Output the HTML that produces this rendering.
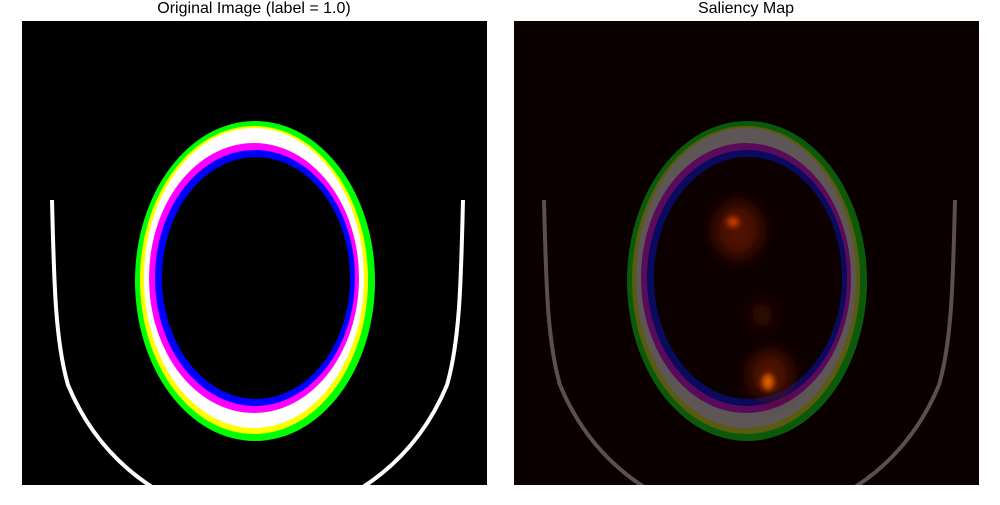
<!DOCTYPE html>
<html><head><meta charset="utf-8"><style>
body{margin:0;background:#fff;width:1000px;height:500px;overflow:hidden;font-family:"Liberation Sans",sans-serif}
</style></head><body>
<svg width="1000" height="500" viewBox="0 0 1000 500">
<defs>
<filter id="blur" x="-50%" y="-50%" width="200%" height="200%"><feGaussianBlur stdDeviation="8"/></filter>
<filter id="blur2" x="-50%" y="-50%" width="200%" height="200%"><feGaussianBlur stdDeviation="3"/></filter>
<clipPath id="c1"><rect x="22" y="21" width="465" height="464"/></clipPath>
<clipPath id="c2"><rect x="514" y="21" width="465" height="464"/></clipPath>
</defs>
<text x="254" y="13" text-anchor="middle" font-size="16" fill="#000">Original Image (label = 1.0)</text>
<text x="746" y="13" text-anchor="middle" font-size="16" fill="#000">Saliency Map</text>
<g clip-path="url(#c1)">
<rect x="22" y="21" width="465" height="464" fill="#000"/>
<ellipse cx="255" cy="281" rx="120" ry="160" fill="#00ff00"/>
<ellipse cx="254" cy="280" rx="114" ry="154" fill="#ffff00"/>
<ellipse cx="254" cy="278" rx="110" ry="150" fill="#ffffff"/>
<ellipse cx="254" cy="278" rx="105" ry="135" fill="#ff00ff"/>
<ellipse cx="255" cy="278" rx="100" ry="128" fill="#0000ff"/>
<ellipse cx="256" cy="278" rx="94" ry="121" fill="#000"/>
<path d="M52,200 C54,280 55,340 68,385 Q95,450 152,487" stroke="#fff" stroke-width="4" fill="none"/>
<path d="M463,200 C461,280 460,340 447,385 Q420,450 363,487" stroke="#fff" stroke-width="4" fill="none"/>
</g>
<g clip-path="url(#c2)">
<rect x="514" y="21" width="465" height="464" fill="#0a0000"/>
<ellipse cx="747" cy="281" rx="120" ry="160" fill="#0a5a0a"/>
<ellipse cx="746" cy="280" rx="114" ry="154" fill="#5a5a12"/>
<ellipse cx="746" cy="278" rx="110" ry="150" fill="#5e5556"/>
<ellipse cx="746" cy="278" rx="105" ry="135" fill="#5a0a5a"/>
<ellipse cx="747" cy="278" rx="100" ry="128" fill="#0a0a5e"/>
<ellipse cx="748" cy="278" rx="94" ry="121" fill="#0d0000"/>
<ellipse cx="738" cy="230" rx="24" ry="28" fill="#601500" filter="url(#blur)" opacity="0.8"/>
<ellipse cx="733" cy="222" rx="6" ry="5" fill="#d04000" filter="url(#blur2)"/>
<ellipse cx="770" cy="375" rx="22" ry="24" fill="#601500" filter="url(#blur)" opacity="0.8"/>
<ellipse cx="768" cy="382" rx="6" ry="8" fill="#e06000" filter="url(#blur2)"/>
<ellipse cx="762" cy="315" rx="10" ry="12" fill="#401000" filter="url(#blur)"/>
<path d="M544,200 C546,280 547,340 560,385 Q587,450 644,487" stroke="#5a5050" stroke-width="4" fill="none"/>
<path d="M955,200 C953,280 952,340 939,385 Q912,450 855,487" stroke="#5a5050" stroke-width="4" fill="none"/>
</g>
</svg>
</body></html>
